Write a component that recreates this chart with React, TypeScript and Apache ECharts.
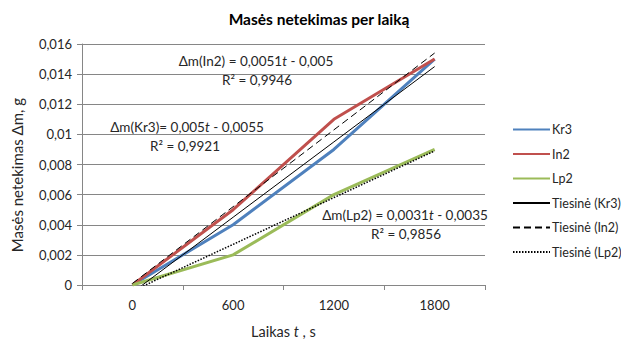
import React, { useEffect, useRef } from "react";
import * as echarts from "echarts";

const categories = ["0", "600", "1200", "1800"];
const kr3 = [0, 0.004, 0.009, 0.015];
const in2 = [0, 0.005, 0.011, 0.015];
const lp2 = [0, 0.002, 0.006, 0.009];
// linear trendline coefficients (t = 1..4)
const trendSlope = [0.005, 0.0051, 0.0031];
const trendIntercept = [-0.0055, -0.005, -0.0035];
const seriesNames = ["Kr3", "In2", "Lp2"];
const trendNames = ["Tiesinė (Kr3)", "Tiesinė (In2)", "Tiesinė (Lp2)"];
const equations = [
  "Δm(Kr3)= 0,005{i|t} - 0,0055",
  "Δm(In2) = 0,0051{i|t} - 0,005",
  "Δm(Lp2) = 0,0031{i|t} - 0,0035",
];
const r2Labels = ["R² = 0,9921", "R² = 0,9946", "R² = 0,9856"];

const FONT = "Lato, 'Noto Sans', sans-serif";
const TXT = "#262626";
const FS = 13;
const EQ_FS = 13.5;

export default function App() {
  const ref = useRef<HTMLDivElement>(null);
  useEffect(() => {
    document.body.style.margin = "0";
    const chart = echarts.init(ref.current!, null, { renderer: "svg" });
    const colors = ["#4F81BD", "#C0504D", "#9BBB59"];
    const dataSets = [kr3, in2, lp2];
    const trendData = trendSlope.map((s, k) =>
      categories.map((_, i) => +(s * (i + 1) + trendIntercept[k]).toFixed(6))
    );
    const dashTypes: any[] = ["solid", [7, 4], [1.5, 1.5]];
    const eqPos = [
      [187, 127, 185, 146],
      [256, 61, 257, 80],
      [405, 215, 406, 234],
    ];
    const graphics: any[] = [];
    eqPos.forEach((p, k) => {
      graphics.push({
        type: "text",
        x: p[0],
        y: p[1],
        z: 100,
        style: {
          text: equations[k],
          rich: { i: { fontStyle: "italic", fontSize: EQ_FS, fontFamily: FONT, fill: TXT } },
          fontSize: EQ_FS,
          fontFamily: FONT,
          fill: TXT,
          align: "center",
          verticalAlign: "middle",
        },
      });
      graphics.push({
        type: "text",
        x: p[2],
        y: p[3],
        z: 100,
        style: {
          text: r2Labels[k],
          fontSize: EQ_FS,
          fontFamily: FONT,
          fill: TXT,
          align: "center",
          verticalAlign: "middle",
        },
      });
    });
    graphics.push({
      type: "text",
      x: 17,
      y: 175,
      rotation: Math.PI / 2,
      style: {
        text: "Masės netekimas Δm, g",
        fontSize: 15,
        fontFamily: FONT,
        fill: TXT,
        align: "center",
        verticalAlign: "middle",
      },
    });
    const option: any = {
      animation: false,
      backgroundColor: "#ffffff",
      title: {
        text: "Masės netekimas per laiką",
        left: 314,
        top: 6,
        textAlign: "center",
        textStyle: { fontSize: 15.5, fontWeight: "bold", fontFamily: FONT, color: "#000" },
      },
      grid: { left: 82, right: 136, top: 44, bottom: 54, outerBoundsMode: "none", containLabel: false },
      legend: {
        orient: "vertical",
        left: 507,
        top: 118,
        itemWidth: 37,
        itemHeight: 14,
        itemGap: 11.5,
        itemStyle: { opacity: 0 },
        textStyle: { fontSize: 12.5, fontFamily: FONT, color: TXT, padding: [0, 0, 0, -3] },
        data: [...seriesNames, ...trendNames],
      },
      xAxis: {
        type: "category",
        data: categories,
        boundaryGap: true,
        name: "Laikas {i|t} , s",
        nameLocation: "middle",
        nameGap: 39,
        nameTextStyle: {
          fontSize: 14.5,
          fontFamily: FONT,
          color: TXT,
          rich: { i: { fontStyle: "italic", fontSize: 14.5, fontFamily: FONT, color: TXT } },
        },
        axisLine: { lineStyle: { color: "#868686" } },
        axisTick: { show: true, length: 5, alignWithLabel: false, lineStyle: { color: "#868686" } },
        axisLabel: { fontSize: FS, fontFamily: FONT, color: TXT, margin: 13 },
      },
      yAxis: {
        type: "value",
        min: 0,
        max: 0.016,
        interval: 0.002,
        axisLine: { show: true, lineStyle: { color: "#868686" } },
        axisTick: { show: true, length: 5, lineStyle: { color: "#868686" } },
        splitLine: { lineStyle: { color: "#868686" } },
        axisLabel: {
          fontSize: FS,
          fontFamily: FONT,
          color: TXT,
          margin: 10,
          formatter: (v: number) => String(+v.toFixed(4)).replace(".", ","),
        },
      },
      series: [
        ...dataSets.map((d, k) => ({
          name: seriesNames[k],
          type: "line",
          data: d,
          symbol: "none",
          color: colors[k],
          lineStyle: { width: 3, color: colors[k], join: "round" },
          z: 2,
        })),
        ...trendData.map((d, k) => ({
          name: trendNames[k],
          type: "line",
          data: d,
          symbol: "none",
          color: "#000",
          clip: true,
          lineStyle: { width: k === 2 ? 1.5 : 1, color: "#000", type: dashTypes[k] },
          z: 3,
        })),
      ],
      graphic: graphics,
    };
    chart.setOption(option);
    return () => chart.dispose();
  }, []);
  return (
    <div
      ref={ref}
      style={{ width: 621, height: 339, position: "fixed", left: 0, top: 0 }}
    />
  );
}
